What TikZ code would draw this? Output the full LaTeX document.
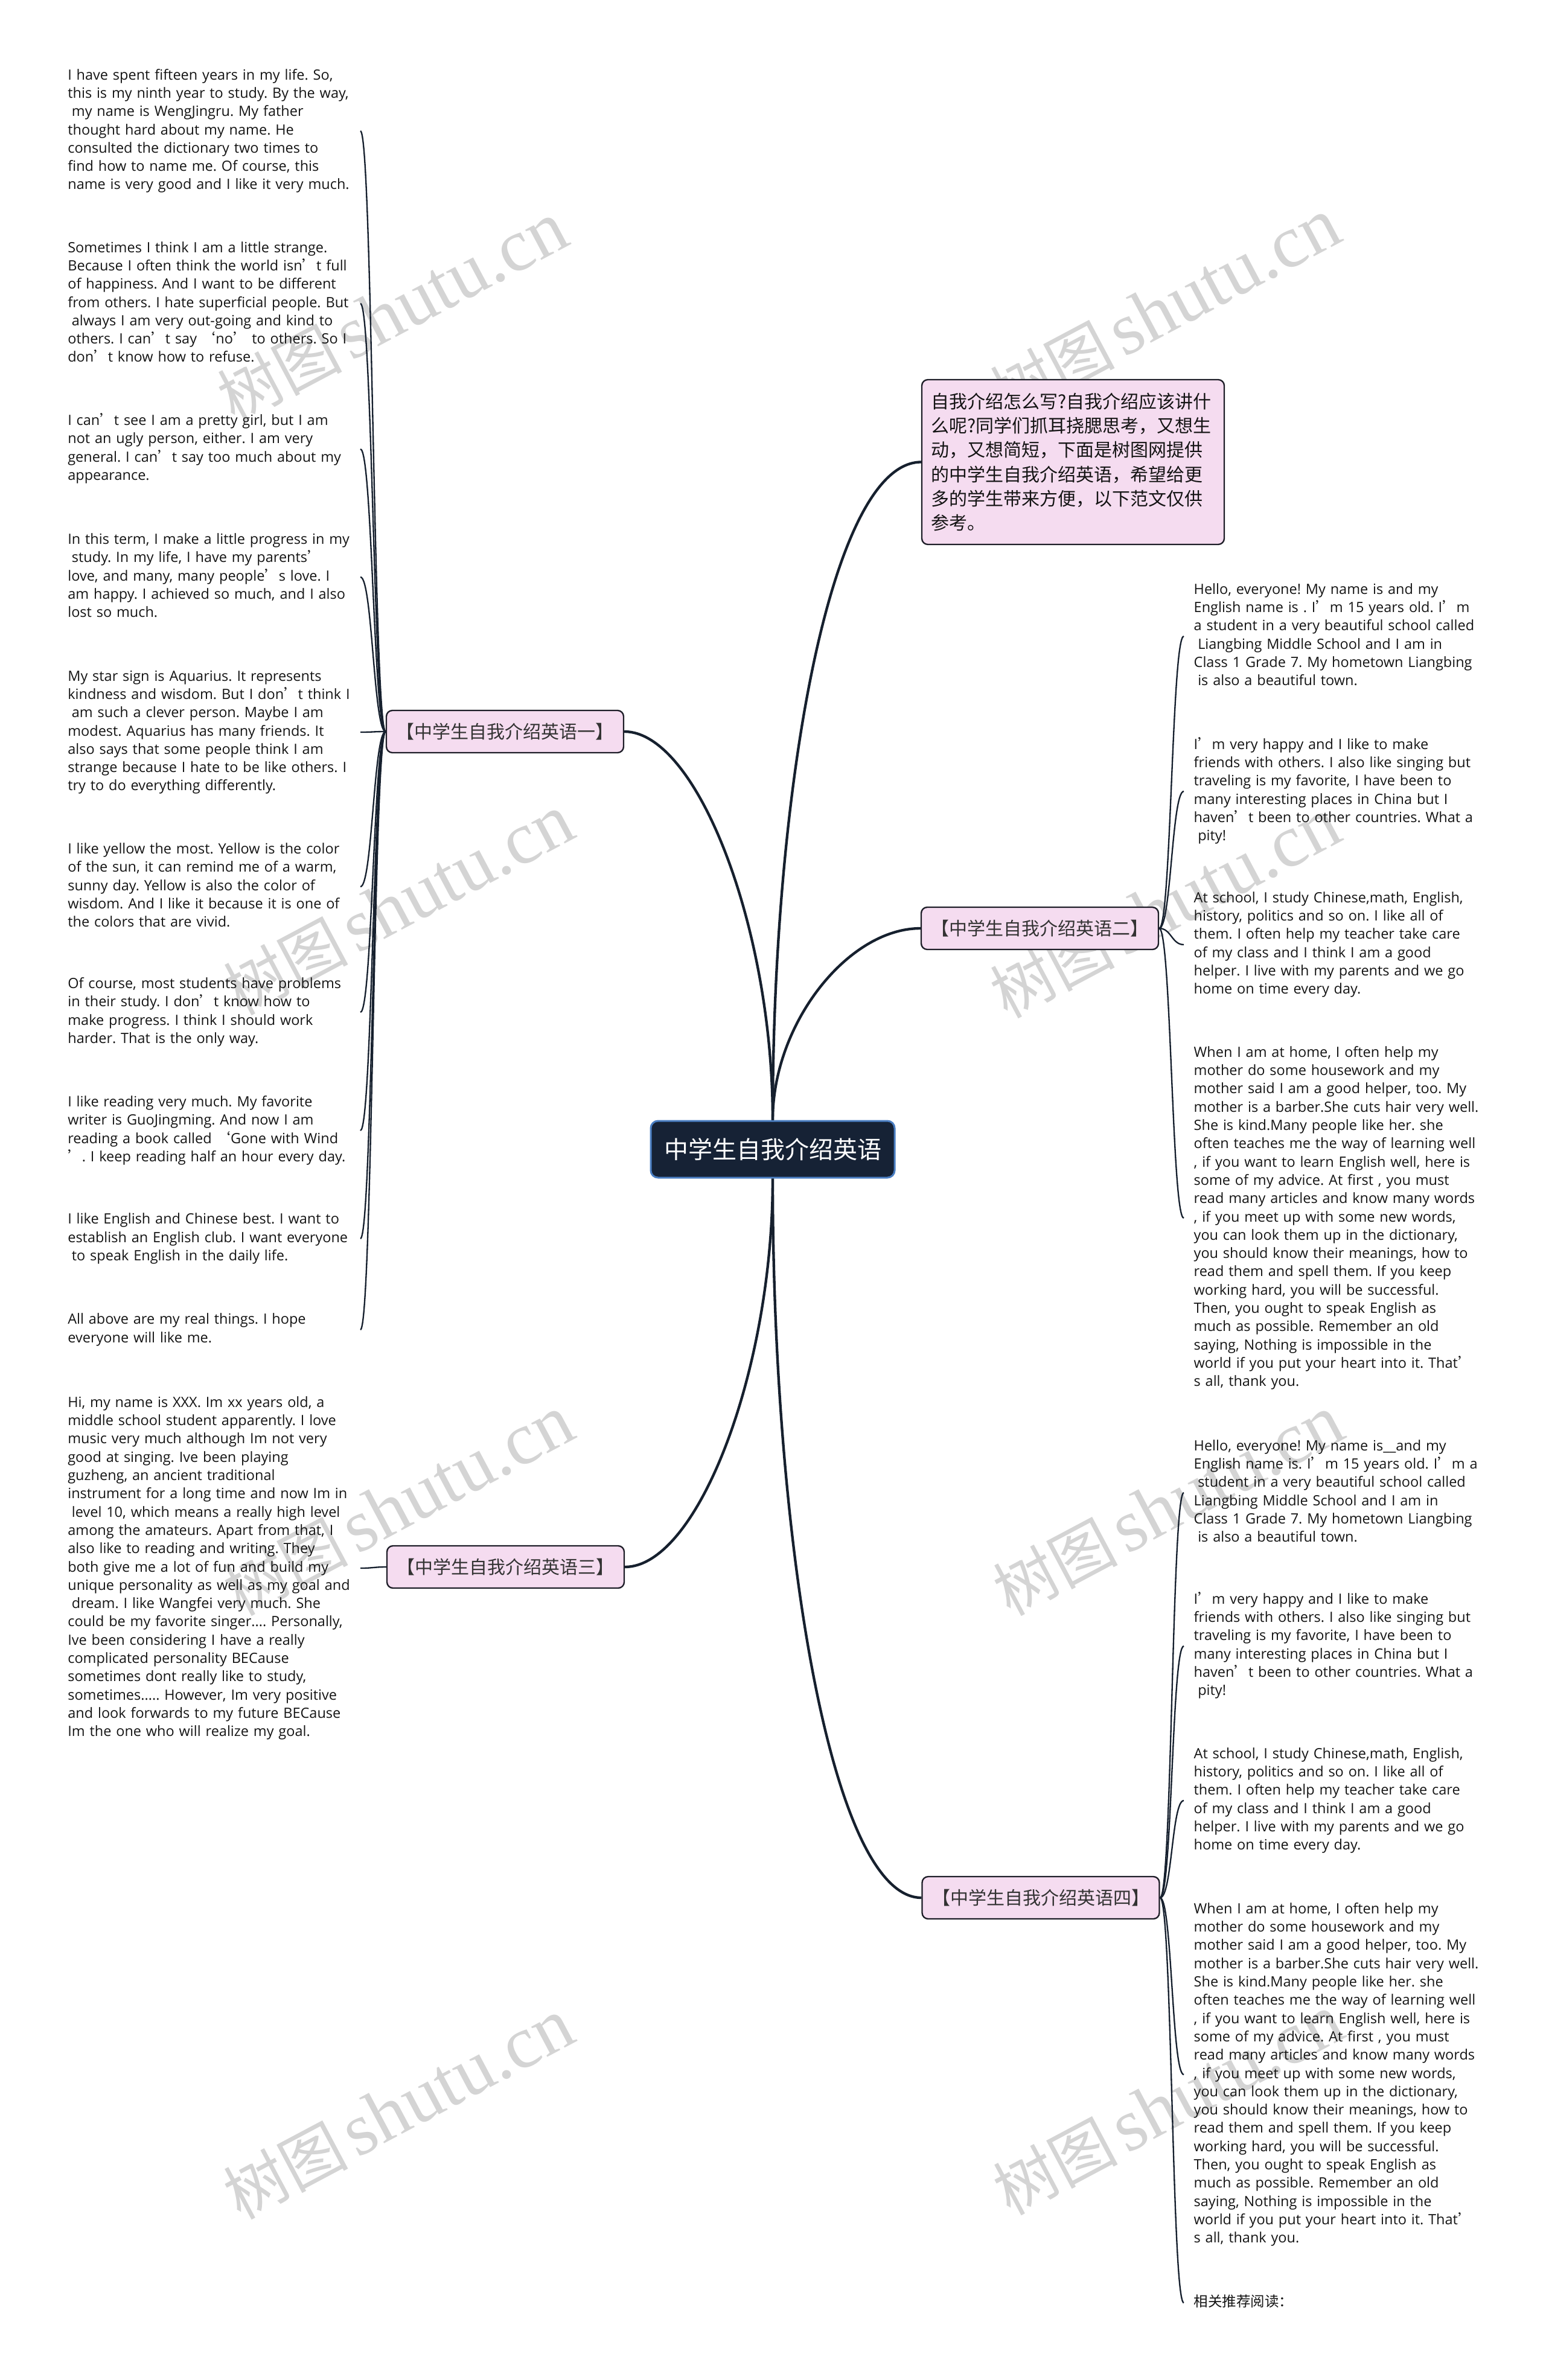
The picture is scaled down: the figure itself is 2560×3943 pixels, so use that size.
\documentclass[tikz,border=0pt]{standalone}
\usepackage{fontspec}
\setmainfont{Open Sans}
\newfontfamily\cjk{Noto Sans CJK SC}
\newfontfamily\wmserif{Liberation Serif}
\definecolor{linecol}{HTML}{16202E}
\definecolor{pinkfill}{HTML}{F5DCF0}
\definecolor{pinkborder}{HTML}{1E1E28}
\definecolor{rootfill}{HTML}{162235}
\definecolor{rootborder}{HTML}{4A7EC2}
\definecolor{wmcol}{HTML}{D4D4D4}
\definecolor{leaftext}{HTML}{141414}
\definecolor{branchtext}{HTML}{333333}
\newcommand\leaffont{\fontsize{7.05pt}{9.09pt}\selectfont}
\newcommand\wmtext{{\cjk\fontsize{31pt}{31pt}\selectfont 树图}\hspace{4pt}{\wmserif\fontsize{37pt}{37pt}\selectfont shutu.cn}}
\newcommand\zq{{\cjk ’}}
\newcommand\zl{{\cjk ‘}}
\newcommand\ind{\hspace*{0.28em}}
\frenchspacing
\tikzset{
  wm/.style={text=wmcol, rotate=28, inner sep=0pt},
  root/.style={draw=rootborder, line width=0.9pt, fill=rootfill, rounded corners=3.6pt,
    minimum width=121.2pt, minimum height=28.2pt, inner sep=0pt, text=white,
    font=\cjk\fontsize{12pt}{14pt}\selectfont},
  branch/.style={draw=pinkborder, line width=0.7pt, fill=pinkfill, rounded corners=3pt,
    minimum width=117.9pt, minimum height=21pt, inner sep=0pt, text=branchtext,
    font=\cjk\fontsize{9pt}{11pt}\selectfont},
  intro/.style={draw=pinkborder, line width=0.7pt, fill=pinkfill, rounded corners=3pt,
    minimum width=150.3pt, minimum height=81.9pt, text width=141.3pt, inner xsep=4.5pt,
    inner ysep=0pt, align=left, text=leaftext, font=\cjk\fontsize{9pt}{12.09pt}\selectfont},
  leafL/.style={text width=144pt, inner xsep=1.2pt, inner ysep=0pt, align=left, anchor=east,
    text=leaftext, font=\leaffont\frenchspacing, execute at begin node=\strut, execute at end node=\strut},
  leafR/.style={text width=144pt, inner xsep=4.8pt, inner ysep=0pt, align=left, anchor=west,
    text=leaftext, font=\leaffont\frenchspacing, execute at begin node=\strut, execute at end node=\strut},
  mainconn/.style={draw=linecol, line width=1.3pt},
  leafconn/.style={draw=linecol, line width=0.7pt},
}
\begin{document}
\begin{tikzpicture}[x=0.3pt,y=-0.3pt]
\useasboundingbox (0,0) rectangle (2560,3943);
% watermarks
\foreach \i/\xx/\yy in {1/650/518,2/1930/512,3/660/1500,4/1930/1505,5/660/2495,6/1935/2495,7/660/3495,8/1935/3488}
  \node[wm] (w\i) at (\xx,\yy) {\wmtext};

% central and branches
\node[root] (root) at (1280,1904) {中学生自我介绍英语};
\node[intro] (intro) at (1777.5,765.5) {自我介绍怎么写?自我介绍应该讲什\\么呢?同学们抓耳挠腮思考，又想生\\动，又想简短，下面是树图网提供\\的中学生自我介绍英语，希望给更\\多的学生带来方便，以下范文仅供\\参考。};
\node[branch] (b1) at (836.5,1212) {【中学生自我介绍英语一】};
\node[branch] (b2) at (1722.5,1538) {【中学生自我介绍英语二】};
\node[branch] (b3) at (837.5,2596) {【中学生自我介绍英语三】};
\node[branch] (b4) at (1724,3144) {【中学生自我介绍英语四】};

% left leaves (branch 1)
\node[leafL] (L1) at (597,217) {I have spent fifteen years in my life. So,\\this is my ninth year to study. By the way,\\\ind my name is WengJingru. My father\\thought hard about my name. He\\consulted the dictionary two times to\\find how to name me. Of course, this\\name is very good and I like it very much.};
\node[leafL] (L2) at (597,503) {Sometimes I think I am a little strange.\\Because I often think the world isn\zq t full\\of happiness. And I want to be different\\from others. I hate superficial people. But\\\ind always I am very out-going and kind to\\others. I can\zq t say \zl no\zq{} to others. So I\\don\zq t know how to refuse.};
\node[leafL] (L3) at (597,744) {I can\zq t see I am a pretty girl, but I am\\not an ugly person, either. I am very\\general. I can\zq t say too much about my\\appearance.};
\node[leafL] (L4) at (597,956) {In this term, I make a little progress in my\\\ind study. In my life, I have my parents\zq\\love, and many, many people\zq s love. I\\am happy. I achieved so much, and I also\\lost so much.};
\node[leafL] (L5) at (597,1213) {My star sign is Aquarius. It represents\\kindness and wisdom. But I don\zq t think I\\\ind am such a clever person. Maybe I am\\modest. Aquarius has many friends. It\\also says that some people think I am\\strange because I hate to be like others. I\\try to do everything differently.};
\node[leafL] (L6) at (597,1469) {I like yellow the most. Yellow is the color\\of the sun, it can remind me of a warm,\\sunny day. Yellow is also the color of\\wisdom. And I like it because it is one of\\the colors that are vivid.};
\node[leafL] (L7) at (597,1677) {Of course, most students have problems\\in their study. I don\zq t know how to\\make progress. I think I should work\\harder. That is the only way.};
\node[leafL] (L8) at (597,1873) {I like reading very much. My favorite\\writer is GuoJingming. And now I am\\reading a book called \zl Gone with Wind\\\zq. I keep reading half an hour every day.};
\node[leafL] (L9) at (597,2052) {I like English and Chinese best. I want to\\establish an English club. I want everyone\\\ind to speak English in the daily life.};
\node[leafL] (L10) at (597,2203) {All above are my real things. I hope\\everyone will like me.};

% branch 3 leaf
\node[leafL] (M1) at (597,2598) {Hi, my name is XXX. Im xx years old, a\\middle school student apparently. I love\\music very much although Im not very\\good at singing. Ive been playing\\guzheng, an ancient traditional\\instrument for a long time and now Im in\\\ind level 10, which means a really high level\\among the amateurs. Apart from that, I\\also like to reading and writing. They\\both give me a lot of fun and build my\\unique personality as well as my goal and\\\ind dream. I like Wangfei very much. She\\could be my favorite singer.... Personally,\\Ive been considering I have a really\\complicated personality BECause\\sometimes dont really like to study,\\sometimes..... However, Im very positive\\and look forwards to my future BECause\\Im the one who will realize my goal.};

% right leaves (branch 2)
\node[leafR] (R1) at (1961,1054) {Hello, everyone! My name is and my\\English name is . I\zq m 15 years old. I\zq m\\a student in a very beautiful school called\\\ind Liangbing Middle School and I am in\\Class 1 Grade 7. My hometown Liangbing\\\ind is also a beautiful town.};
\node[leafR] (R2) at (1961,1311) {I\zq m very happy and I like to make\\friends with others. I also like singing but\\traveling is my favorite, I have been to\\many interesting places in China but I\\haven\zq t been to other countries. What a\\\ind pity!};
\node[leafR] (R3) at (1961,1565) {At school, I study Chinese,math, English,\\history, politics and so on. I like all of\\them. I often help my teacher take care\\of my class and I think I am a good\\helper. I live with my parents and we go\\home on time every day.};
\node[leafR] (R4) at (1961,2018) {When I am at home, I often help my\\mother do some housework and my\\mother said I am a good helper, too. My\\mother is a barber.She cuts hair very well.\\She is kind.Many people like her. she\\often teaches me the way of learning well\\, if you want to learn English well, here is\\some of my advice. At first , you must\\read many articles and know many words\\, if you meet up with some new words,\\you can look them up in the dictionary,\\you should know their meanings, how to\\read them and spell them. If you keep\\working hard, you will be successful.\\Then, you ought to speak English as\\much as possible. Remember an old\\saying, Nothing is impossible in the\\world if you put your heart into it. That\zq\\s all, thank you.};

% right leaves (branch 4)
\node[leafR] (S1) at (1961,2473) {Hello, everyone! My name is\_\_and my\\English name is. I\zq m 15 years old. I\zq m a\\\ind student in a very beautiful school called\\Liangbing Middle School and I am in\\Class 1 Grade 7. My hometown Liangbing\\\ind is also a beautiful town.};
\node[leafR] (S2) at (1961,2727) {I\zq m very happy and I like to make\\friends with others. I also like singing but\\traveling is my favorite, I have been to\\many interesting places in China but I\\haven\zq t been to other countries. What a\\\ind pity!};
\node[leafR] (S3) at (1961,2983) {At school, I study Chinese,math, English,\\history, politics and so on. I like all of\\them. I often help my teacher take care\\of my class and I think I am a good\\helper. I live with my parents and we go\\home on time every day.};
\node[leafR] (S4) at (1961,3437) {When I am at home, I often help my\\mother do some housework and my\\mother said I am a good helper, too. My\\mother is a barber.She cuts hair very well.\\She is kind.Many people like her. she\\often teaches me the way of learning well\\, if you want to learn English well, here is\\some of my advice. At first , you must\\read many articles and know many words\\, if you meet up with some new words,\\you can look them up in the dictionary,\\you should know their meanings, how to\\read them and spell them. If you keep\\working hard, you will be successful.\\Then, you ought to speak English as\\much as possible. Remember an old\\saying, Nothing is impossible in the\\world if you put your heart into it. That\zq\\s all, thank you.};
\node[leafR] (S5) at (1961,3815) {{\cjk 相关推荐阅读：}};

% main connectors
\draw[mainconn] (root.north) .. controls +(0,-320) and +(120,0) .. (b1.east);
\draw[mainconn] (root.north) .. controls +(0,-550) and +(-150,0) .. (intro.west);
\draw[mainconn] (root.north) .. controls +(0,-160) and +(-120,0) .. (b2.west);
\draw[mainconn] (root.south) .. controls +(0,320) and +(120,0) .. (b3.east);
\draw[mainconn] (root.south) .. controls +(0,600) and +(-150,0) .. (b4.west);

% leaf connectors
\foreach \n in {1,...,10}
  \draw[leafconn] (b1.west) .. controls +(-20,0) and +(20,0) .. (L\n.east);
\draw[leafconn] (b3.west) .. controls +(-20,0) and +(20,0) .. (M1.east);
\foreach \n in {1,...,4}
  \draw[leafconn] (b2.east) .. controls +(20,0) and +(-20,0) .. (R\n.west);
\foreach \n in {1,...,5}
  \draw[leafconn] (b4.east) .. controls +(20,0) and +(-20,0) .. (S\n.west);
\end{tikzpicture}
\end{document}
